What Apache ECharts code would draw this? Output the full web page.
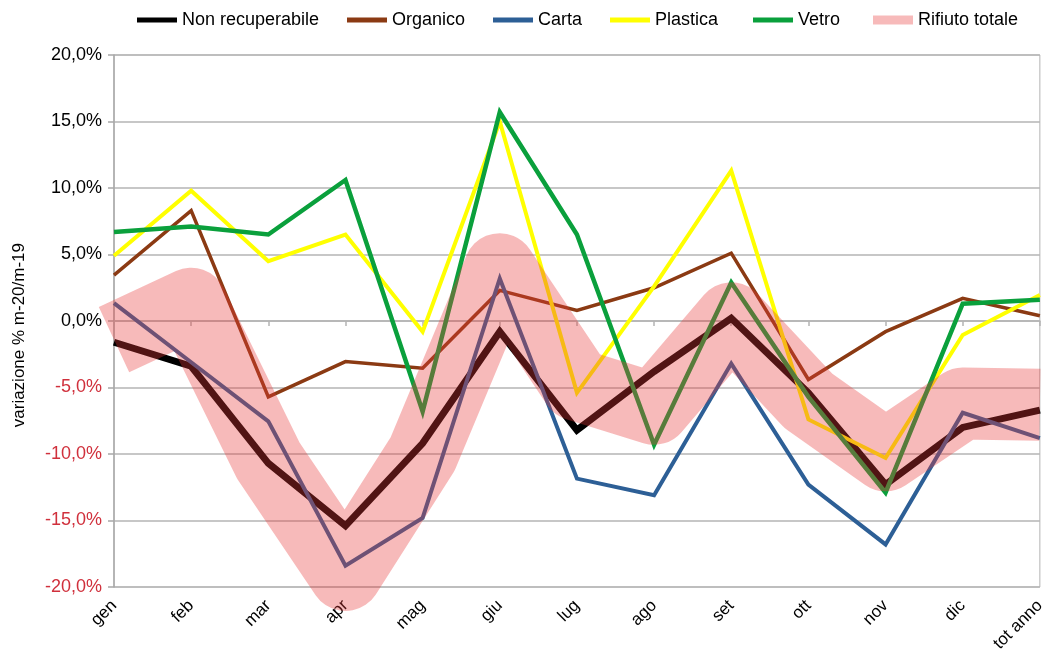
<!DOCTYPE html>
<html>
<head>
<meta charset="utf-8">
<script src="https://cdn.jsdelivr.net/npm/echarts@6/dist/echarts.min.js"></script>
<style>
html,body{margin:0;padding:0;background:#fff;}
#c{width:1048px;height:657px;}
</style>
</head>
<body>
<div id="c"></div>
<script>
const categories = ['gen','feb','mar','apr','mag','giu','lug','ago','set','ott','nov','dic','tot anno'];
const nonRecuperabile = [-1.6, -3.4, -10.7, -15.4, -9.2, -0.8, -8.2, -3.8, 0.2, -5.4, -12.3, -8.0, -6.7];
const organico = [3.45, 8.3, -5.7, -3.05, -3.55, 2.3, 0.8, 2.5, 5.1, -4.4, -0.8, 1.7, 0.4];
const carta = [1.35, -3.1, -7.55, -18.4, -14.8, 3.2, -11.85, -13.1, -3.2, -12.3, -16.8, -6.9, -8.8];
const plastica = [4.9, 9.8, 4.5, 6.5, -0.8, 15.0, -5.4, 2.6, 11.3, -7.4, -10.3, -1.05, 1.95];
const vetro = [6.7, 7.1, 6.5, 10.6, -6.8, 15.7, 6.5, -9.3, 2.9, -5.7, -12.9, 1.3, 1.6];
const rifiutoTotale = [-1.4, 1.3, -10.5, -19.1, -10.0, 3.9, -4.8, -6.6, 0.2, -6.0, -10.1, -6.2, -6.3];
const seriesNames = ['Non recuperabile','Organico','Carta','Plastica','Vetro','Rifiuto totale'];
const yAxisTitle = 'variazione % m-20/m-19';

const FONT = "'Liberation Sans', Arial, sans-serif";
const chart = echarts.init(document.getElementById('c'), null, {renderer: 'canvas'});

function lineSeries(name, data, color, width) {
  return {
    name: name, type: 'line', data: data, xAxisIndex: 0, yAxisIndex: 0,
    showSymbol: false, symbol: 'none', animation: false,
    itemStyle: {color: color},
    lineStyle: {color: color, width: width, join: 'miter'},
    emphasis: {disabled: true}
  };
}

const pink = 'rgba(231,58,57,0.35)';
const legendLefts = [137, 347, 493, 610, 753, 873];
const legends = seriesNames.map(function (n, i) {
  return {
    left: legendLefts[i], top: 11, itemWidth: 40, itemHeight: i === 5 ? 9 : 5, icon: 'rect',
    data: [n], textStyle: {fontSize: 18, color: '#000', fontFamily: FONT},
    selectedMode: false, padding: 0
  };
});

chart.setOption({
  animation: false,
  backgroundColor: '#fff',
  textStyle: {fontFamily: FONT},
  grid: {left: 114, right: 5, top: 55, bottom: 70, show: true, borderColor: '#b4b4b4', borderWidth: 1},
  legend: legends,
  graphic: [{
    type: 'text', left: 11, top: 243, rotation: Math.PI / 2,
    style: {text: yAxisTitle, font: '17px ' + FONT, fill: '#000'},
    z: 100
  }],
  xAxis: [
    {
      type: 'category', data: categories, boundaryGap: false, position: 'bottom',
      axisLine: {onZero: true, lineStyle: {color: '#b4b4b4', width: 1.5}},
      axisTick: {show: true, length: 5, lineStyle: {color: '#b4b4b4', width: 1.5}},
      axisLabel: {show: false}, splitLine: {show: false}
    },
    {
      type: 'category', data: categories, boundaryGap: false, position: 'bottom',
      axisLine: {show: false, onZero: false}, axisTick: {show: false},
      axisLabel: {show: true, rotate: 45, fontSize: 17, color: '#000', margin: 16, fontFamily: FONT},
      splitLine: {show: false}
    }
  ],
  yAxis: {
    type: 'value', min: -20, max: 20, interval: 5,
    axisLine: {show: true, lineStyle: {color: '#a8a8a8', width: 1.5}},
    axisTick: {show: true, length: 6, lineStyle: {color: '#a8a8a8', width: 1.5}},
    splitLine: {show: true, lineStyle: {color: '#b4b4b4', width: 1.5}},
    axisLabel: {
      margin: 12, fontSize: 18, fontFamily: FONT,
      formatter: function (v) {
        const s = v.toFixed(1).replace('.', ',') + '%';
        return v < 0 ? '{n|' + s + '}' : '{p|' + s + '}';
      },
      rich: {
        n: {color: '#d0303c', fontSize: 18, fontFamily: FONT},
        p: {color: '#000', fontSize: 18, fontFamily: FONT}
      }
    }
  },
  series: [
    lineSeries(seriesNames[0], nonRecuperabile, '#000000', 7),
    lineSeries(seriesNames[1], organico, '#8B3A13', 3.5),
    lineSeries(seriesNames[2], carta, '#2D5F96', 4),
    lineSeries(seriesNames[3], plastica, '#FFFF00', 4),
    lineSeries(seriesNames[4], vetro, '#0AA03C', 4.5),
    {
      name: seriesNames[5], type: 'line', data: rifiutoTotale, clip: false,
      showSymbol: false, symbol: 'none', animation: false, z: 10,
      itemStyle: {color: pink},
      lineStyle: {color: pink, width: 72, join: 'round', cap: 'butt'},
      emphasis: {disabled: true}
    }
  ]
});
</script>
</body>
</html>
